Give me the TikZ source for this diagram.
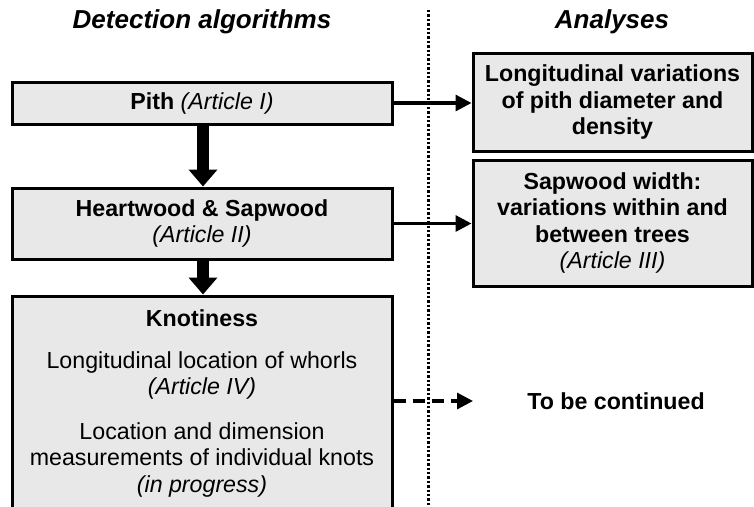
\documentclass[tikz,border=0pt]{standalone}
\usepackage{fontspec}
\setmainfont{Liberation Sans}
\usetikzlibrary{arrows.meta}
\definecolor{boxgray}{HTML}{E8E8E8}
\begin{document}
\begin{tikzpicture}[x=1pt,y=-1pt,
  box/.style={draw=black, line width=3pt, fill=boxgray, rectangle, inner sep=0pt, align=center,
    font=\fontsize{23.2}{26.5}\selectfont},
  txt/.style={align=center, inner sep=0pt, font=\fontsize{23.2}{26.5}\selectfont},
  head/.style={inner sep=0pt, font=\fontsize{26}{30}\selectfont\bfseries\itshape},
  conn/.style={line width=3.2pt, -{Triangle[length=16pt,width=16pt]}},
  bigarrow/.style={line width=12pt, -{Triangle[length=17pt,width=28pt]}, shorten <=-1pt}
]
\useasboundingbox (0,0) rectangle (754,506);

\node[head] (h1) at (202,22) {Detection algorithms};
\node[head] (h2) at (612,22) {Analyses};

\coordinate (dtop) at (428,10);
\coordinate (dbot) at (428,510);
\draw[line width=3pt, dash pattern=on 2.4pt off 2pt] (dtop) -- (dbot);

\node[box, minimum width=380pt, minimum height=42pt] (pith) at (202,103)
  {\textbf{Pith} \textit{(Article I)}};
\node[box, minimum width=380pt, minimum height=71pt] (heart) at (202,223.5)
  {\textbf{Heartwood \& Sapwood}\\\textit{(Article II)}};
\node[box, minimum width=380pt, minimum height=234pt] (knot) at (202,413) {};

\node[txt, anchor=north] (ktitle) at (202,309) {\textbf{Knotiness}};
\node[txt, anchor=north] (kwhorl) at (202,351) {Longitudinal location of whorls\\\textit{(Article IV)}};
\node[txt, anchor=north] (kknots) at (202,422) {Location and dimension\\measurements of individual knots\\\textit{(in progress)}};

\node[box, minimum width=279pt, minimum height=98pt] (ana1) at (612.5,102)
  {\textbf{Longitudinal variations}\\\textbf{of pith diameter and}\\\textbf{density}};
\node[box, minimum width=279pt, minimum height=126pt] (ana2) at (612.5,223)
  {\textbf{Sapwood width:}\\\textbf{variations within and}\\\textbf{between trees}\\\textit{(Article III)}};
\node[txt] (cont) at (616,401) {\textbf{To be continued}};

\draw[bigarrow] (pith.south -| 203,0) -- (heart.north -| 203,0);
\draw[bigarrow] (heart.south -| 203,0) -- (knot.north -| 203,0);

\draw[conn] (pith.east) -- (pith.east -| ana1.west);
\draw[conn] (heart.east) -- (heart.east -| ana2.west);
\coordinate (contend) at (473,401);
\draw[conn, dash pattern=on 12pt off 7pt] (knot.east |- contend) -- (contend);
\end{tikzpicture}
\end{document}
